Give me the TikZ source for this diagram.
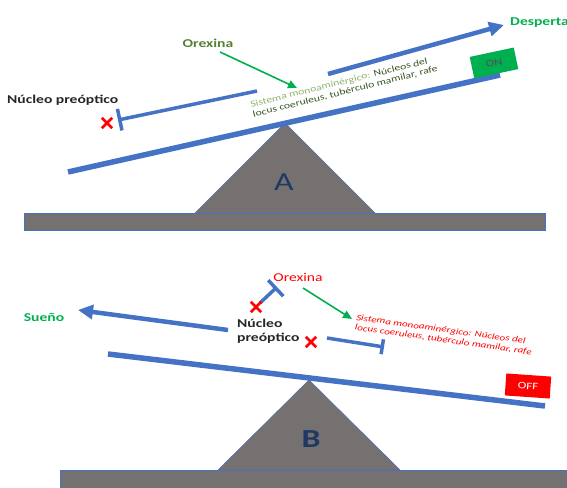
\documentclass[tikz,border=0pt]{standalone}
\usepackage{fontspec}
\setmainfont{Carlito}[FakeStretch=1.3]
\usepackage{xcolor}
\usepackage{tikz}
\usetikzlibrary{positioning, arrows.meta, shapes.misc}
\definecolor{beamBlue}{HTML}{4472C4}
\definecolor{baseGray}{HTML}{767171}
\definecolor{wakeGreen}{HTML}{00B050}
\definecolor{orexGreen}{HTML}{548235}
\definecolor{monoDark}{HTML}{375623}
\definecolor{monoLight}{HTML}{8DB36A}
\definecolor{letterNavy}{HTML}{1F3864}
\definecolor{offRed}{HTML}{FF0000}
\definecolor{bodyText}{HTML}{262626}

\begin{document}
\begin{tikzpicture}[
  x=1pt, y=-1pt,
  every node/.style={font=\fontsize{12}{14}\selectfont\bfseries, inner sep=0pt},
  beam/.style={draw=beamBlue, line width=5.5pt},
  ground/.style={fill=baseGray, draw=beamBlue, line width=0.6pt},
  pivot/.style={fill=baseGray, draw=beamBlue!70!baseGray, line width=0.6pt, line join=miter},
  push/.style={-{Triangle[length=15pt, width=14pt]}, draw=beamBlue, line width=4.5pt},
  block/.style={-{Bar[width=22pt]}, draw=beamBlue, line width=3.5pt},
  excite/.style={-{Triangle[length=9pt, width=8pt]}, draw=wakeGreen, line width=1.6pt},
  redx/.style={cross out, draw=offRed, line width=2.8pt, minimum size=7.5pt},
  letter/.style={font=\fontsize{26}{28}\selectfont, text=letterNavy},
  note/.style={font=\fontsize{9}{10}\selectfont, align=left},
  switchbox/.style={minimum width=45pt, minimum height=22pt,
                    font=\fontsize{10}{12}\selectfont},
]
  \path[use as bounding box, clip] (0,0) rectangle (567,487);

  % ═══ Panel A: awake, the seesaw tips up to the right ═══
  \draw[ground] (24,213) rectangle (545,230);
  \draw[pivot] (195,213) -- (285,123) -- (375,213) -- cycle;
  \node[letter] (labA) at (284,182) {A};

  \coordinate (beamA_l) at (68,172);
  \coordinate (beamA_r) at (500,75);
  \draw[beam] (beamA_l) -- (beamA_r);

  \node[switchbox, fill=wakeGreen, text=bodyText!80, rotate=12] (onA) at (494,63) {ON};

  \node[text=wakeGreen, anchor=west] (wakeA) at (510,23) {Despertar};
  \coordinate (wakeA_tail) at (328,74);
  \coordinate (wakeA_tip)  at (504,25);
  \draw[push] (wakeA_tail) -- (wakeA_tip);

  \node[text=orexGreen] (orexA) at (208,43) {Orexina};
  \coordinate (orexA_out) at (220,52);
  \coordinate (monoA_in)  at (297,88);
  \draw[excite] (orexA_out) -- (monoA_in);

  \node[note, text=monoDark, rotate=14] (monoA) at (344,87)
        {\textcolor{monoLight}{Sistema monoaminérgico:} Núcleos del\\
         locus coeruleus, tubérculo mamilar, rafe};

  \node[text=bodyText, anchor=west] (poaA) at (7,100) {Núcleo preóptico};
  \coordinate (poaA_tail) at (257,91);
  \coordinate (poaA_bar)  at (118,120);
  \draw[block] (poaA_tail) -- (poaA_bar);
  \node[redx] (xA) at (107,123) {};

  % ═══ Panel B: asleep, the seesaw tips down to the right ═══
  \draw[ground] (60,470) rectangle (580,495);
  \draw[pivot] (218,470) -- (309,380) -- (400,470) -- cycle;
  \node[letter, font=\fontsize{26}{28}\selectfont\bfseries] (labB) at (311,439) {B};

  \coordinate (beamB_l) at (108,354);
  \coordinate (beamB_r) at (545,406);
  \draw[beam] (beamB_l) -- (beamB_r);

  \node[switchbox, fill=offRed, text=white, rotate=-4] (offB) at (528,386) {OFF};

  \node[text=wakeGreen] (sleepB) at (44,317) {Sueño};
  \coordinate (sleepB_tail) at (228,330);
  \coordinate (sleepB_tip)  at (78,310);
  \draw[push] (sleepB_tail) -- (sleepB_tip);

  \node[text=bodyText, align=left, anchor=west] (poaB) at (237,331) {Núcleo\\preóptico};

  \node[text=offRed, font=\fontsize{12}{14}\selectfont] (orexB) at (298,277) {Orexina};
  \coordinate (poaB_tail) at (260,303);
  \coordinate (poaB_bar)  at (277,287);
  \draw[block] (poaB_tail) -- (poaB_bar);
  \node[redx] (xB1) at (256,307) {};

  \coordinate (orexB_out) at (303,288);
  \coordinate (monoB_in)  at (352,319);
  \draw[excite] (orexB_out) -- (monoB_in);

  \node[note, text=offRed, rotate=-8, font=\fontsize{8.5}{10}\selectfont\itshape] (monoB) at (444,335)
        {Sistema monoaminérgico: Núcleos del\\
         locus coeruleus, tubérculo mamilar, rafe};

  \node[redx] (xB2) at (311,342) {};
  \coordinate (monoB_tail) at (327,338);
  \coordinate (monoB_bar)  at (384,347);
  \draw[block, -{Bar[width=15pt]}] (monoB_tail) -- (monoB_bar);
\end{tikzpicture}
\end{document}
